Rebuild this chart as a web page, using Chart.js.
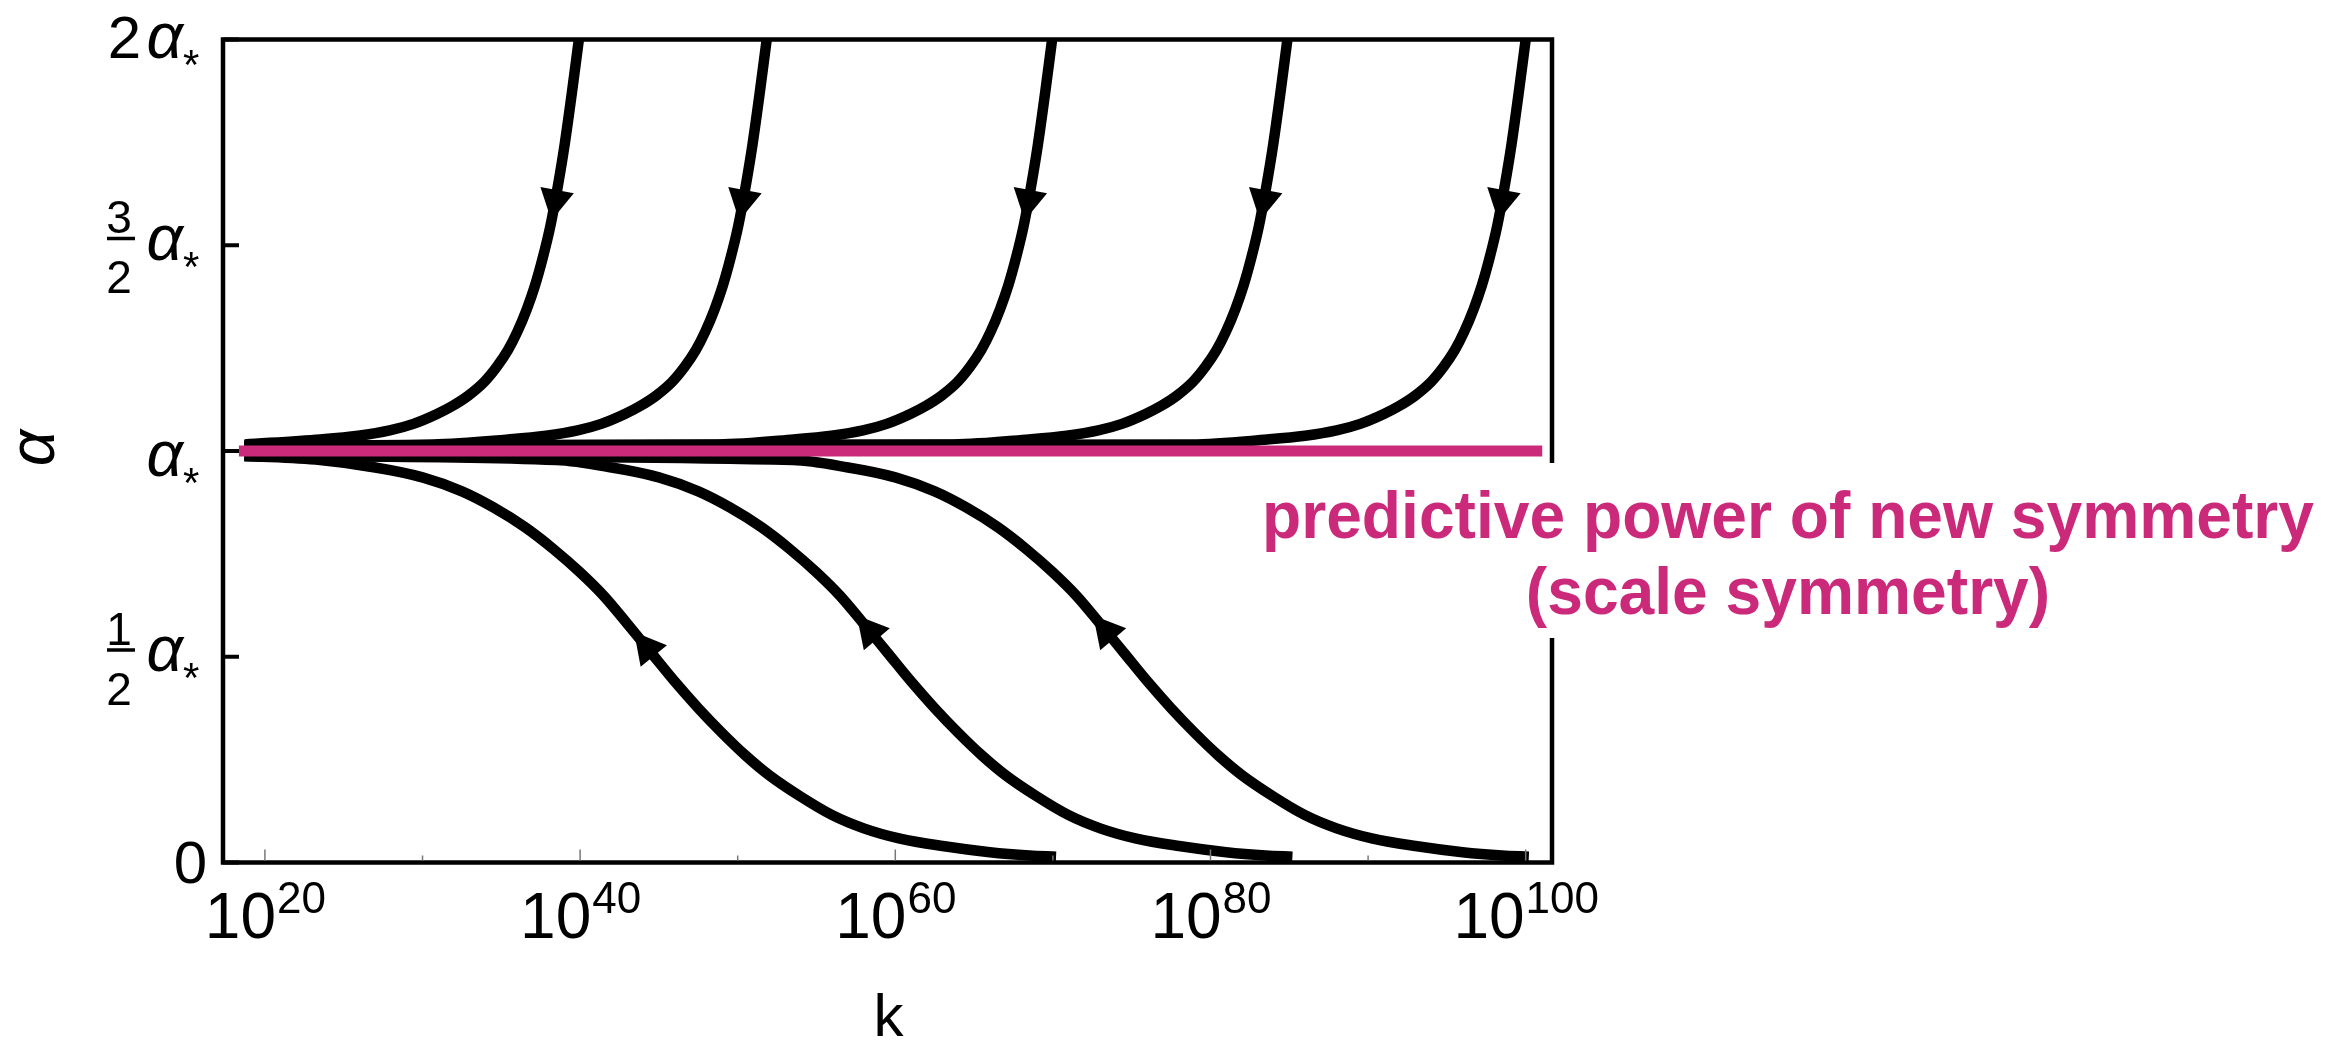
<!DOCTYPE html>
<html lang="en">
<head>
<meta charset="utf-8">
<title>Flujo de alfa</title>
<script src="https://cdn.jsdelivr.net/npm/chart.js@4.4.1/dist/chart.umd.min.js"></script>
<style>
  html, body { margin: 0; padding: 0; background: #ffffff; }
  #contenedor { position: relative; width: 2326px; height: 1041px; }
</style>
</head>
<body>
<div id="contenedor"><canvas id="grafica"></canvas></div>
<script>
// Datos: x = log10(k), y = alfa / alfa*
const kMin = 17.34;
const kMax = 101.67;
const alfaMin = 0;
const alfaMax = 2;

// ticks del eje x (exponentes de 10) y del eje y (multiplos de alfa*)
const ticksX = [20, 40, 60, 80, 100];
const ticksXMenores = [30, 50, 70, 90];
const ticksY = [0, 0.5, 1, 1.5, 2];
const etiquetasY = ['0', '1/2', '1', '3/2', '2'];

// linea del punto fijo (nueva simetria)
const simetriaK = [18.35, 101.05];
const simetriaA = [1, 1];

// curvas que suben hasta 2 alfa*
const subida1K = [18.72, 23.52, 25.92, 27.92, 29.42, 30.92, 31.92, 32.92, 33.92, 34.72, 35.42, 36.02, 36.62, 37.12, 37.62, 38.12, 38.57, 39.02, 39.47, 39.92];
const subida1A = [1.016, 1.028, 1.037, 1.050, 1.066, 1.090, 1.110, 1.135, 1.168, 1.205, 1.245, 1.290, 1.345, 1.400, 1.468, 1.548, 1.640, 1.745, 1.868, 2.0];
const subida2K = [18.7, 30.64, 35.44, 37.84, 39.84, 41.34, 42.84, 43.84, 44.84, 45.84, 46.64, 47.34, 47.94, 48.54, 49.04, 49.54, 50.04, 50.49, 50.94, 51.39, 51.84];
const subida2A = [1.013, 1.016, 1.028, 1.037, 1.050, 1.066, 1.090, 1.110, 1.135, 1.168, 1.205, 1.245, 1.290, 1.345, 1.400, 1.468, 1.548, 1.640, 1.745, 1.868, 2.0];
const subida3K = [18.7, 48.75, 53.55, 55.95, 57.95, 59.45, 60.95, 61.95, 62.95, 63.95, 64.75, 65.45, 66.05, 66.65, 67.15, 67.65, 68.15, 68.6, 69.05, 69.5, 69.95];
const subida3A = [1.013, 1.016, 1.028, 1.037, 1.050, 1.066, 1.090, 1.110, 1.135, 1.168, 1.205, 1.245, 1.290, 1.345, 1.400, 1.468, 1.548, 1.640, 1.745, 1.868, 2.0];
const subida4K = [18.7, 63.68, 68.48, 70.88, 72.88, 74.38, 75.88, 76.88, 77.88, 78.88, 79.68, 80.38, 80.98, 81.58, 82.08, 82.58, 83.08, 83.53, 83.98, 84.43, 84.88];
const subida4A = [1.013, 1.016, 1.028, 1.037, 1.050, 1.066, 1.090, 1.110, 1.135, 1.168, 1.205, 1.245, 1.290, 1.345, 1.400, 1.468, 1.548, 1.640, 1.745, 1.868, 2.0];
const subida5K = [18.7, 78.8, 83.6, 86.0, 88.0, 89.5, 91.0, 92.0, 93.0, 94.0, 94.8, 95.5, 96.1, 96.7, 97.2, 97.7, 98.2, 98.65, 99.1, 99.55, 100.0];
const subida5A = [1.013, 1.016, 1.028, 1.037, 1.050, 1.066, 1.090, 1.110, 1.135, 1.168, 1.205, 1.245, 1.290, 1.345, 1.400, 1.468, 1.548, 1.640, 1.745, 1.868, 2.0];

// curvas que bajan hasta 0
const bajada1K = [18.7, 23.5, 27.0, 30.0, 32.5, 34.5, 36.5, 38.3, 40.0, 41.5, 43.0, 44.5, 46.0, 47.5, 49.0, 50.5, 52.0, 54.0, 56.0, 58.0, 60.3, 63.0, 66.0, 68.5, 70.2];
const bajada1A = [0.988, 0.978, 0.960, 0.936, 0.902, 0.863, 0.815, 0.762, 0.705, 0.648, 0.580, 0.510, 0.440, 0.375, 0.315, 0.260, 0.212, 0.160, 0.115, 0.083, 0.058, 0.040, 0.025, 0.017, 0.014];
const bajada2K = [18.7, 38.5, 42.0, 45.0, 47.5, 49.5, 51.5, 53.3, 55.0, 56.5, 58.0, 59.5, 61.0, 62.5, 64.0, 65.5, 67.0, 69.0, 71.0, 73.0, 75.3, 78.0, 81.0, 83.5, 85.2];
const bajada2A = [0.988, 0.978, 0.960, 0.936, 0.902, 0.863, 0.815, 0.762, 0.705, 0.648, 0.580, 0.510, 0.440, 0.375, 0.315, 0.260, 0.212, 0.160, 0.115, 0.083, 0.058, 0.040, 0.025, 0.017, 0.014];
const bajada3K = [18.7, 53.5, 57.0, 60.0, 62.5, 64.5, 66.5, 68.3, 70.0, 71.5, 73.0, 74.5, 76.0, 77.5, 79.0, 80.5, 82.0, 84.0, 86.0, 88.0, 90.3, 93.0, 96.0, 98.5, 100.2];
const bajada3A = [0.988, 0.978, 0.960, 0.936, 0.902, 0.863, 0.815, 0.762, 0.705, 0.648, 0.580, 0.510, 0.440, 0.375, 0.315, 0.260, 0.212, 0.160, 0.115, 0.083, 0.058, 0.040, 0.025, 0.017, 0.014];

// alfa/alfa* donde esta la punta de cada flecha
const flechasSubida = [1.56, 1.56, 1.56, 1.56, 1.56];
const flechasBajada = [0.56, 0.60, 0.60];

const textoLinea1 = 'predictive power of new symmetry';
const textoLinea2 = '(scale symmetry)';
const tituloX = 'k';
const tituloY = '\u03b1';

const magenta = '#cb2a7b';
const fuente = '"Liberation Sans", Arial, Helvetica, sans-serif';
// pequeno ajuste vertical de cada etiqueta del eje y
const ajusteAlfa = { '2': 1, '3/2': -2.5, '1': 8, '1/2': -3 };

function puntos(ks, as) {
    return ks.map((k, i) => ({ x: k, y: as[i] }));
}

function curva(ks, as) {
    return {
        data: puntos(ks, as),
        borderColor: '#000000',
        borderWidth: 10.5,
        pointRadius: 0,
        cubicInterpolationMode: 'monotone',
        borderCapStyle: 'butt',
        borderJoinStyle: 'round',
        fill: false,
        order: 1
    };
}

const datasets = [
    {
        data: puntos(simetriaK, simetriaA),
        borderColor: magenta,
        borderWidth: 11,
        pointRadius: 0,
        borderCapStyle: 'butt',
        fill: false,
        order: 0
    },
    curva(subida1K, subida1A),
    curva(subida2K, subida2A),
    curva(subida3K, subida3A),
    curva(subida4K, subida4A),
    curva(subida5K, subida5A),
    curva(bajada1K, bajada1A),
    curva(bajada2K, bajada2A),
    curva(bajada3K, bajada3A)
];

// Dibuja una flecha sobre la curva, apuntando hacia k menor
function dibujarFlecha(ctx, meta, yPix) {
    const pts = meta.data;
    const largo = 31, ancho = 34;
    for (let i = 0; i < pts.length - 1; i++) {
        const a = pts[i], b = pts[i + 1];
        if ((a.y - yPix) * (b.y - yPix) <= 0 && a.y !== b.y) {
            const t = (yPix - a.y) / (b.y - a.y);
            const x = a.x + t * (b.x - a.x);
            let dx = a.x - b.x, dy = a.y - b.y;
            const n = Math.hypot(dx, dy);
            dx /= n; dy /= n;
            const bx = x - dx * largo, by = yPix - dy * largo;
            ctx.beginPath();
            ctx.moveTo(x, yPix);
            ctx.lineTo(bx - dy * ancho / 2, by + dx * ancho / 2);
            ctx.lineTo(bx + dy * ancho / 2, by - dx * ancho / 2);
            ctx.closePath();
            ctx.fill();
            return;
        }
    }
}

function centroGlifo(ctx, texto) {
    const m = ctx.measureText(texto);
    return (m.actualBoundingBoxAscent - m.actualBoundingBoxDescent) / 2;
}

function etiquetaY(ctx, texto, py) {
    ctx.fillStyle = '#000000';
    if (texto === '0') {
        ctx.font = `60px ${fuente}`;
        ctx.textAlign = 'right';
        ctx.fillText('0', 207, py + centroGlifo(ctx, '0'));
        return;
    }
    // alfa en cursiva
    ctx.font = `italic 64px ${fuente}`;
    ctx.textAlign = 'right';
    const base = py + (ajusteAlfa[texto] || 0) + centroGlifo(ctx, '\u03b1');
    ctx.fillText('\u03b1', 183, base);
    // asterisco como subindice
    ctx.font = `42px ${fuente}`;
    ctx.textAlign = 'left';
    ctx.fillText('*', 183, base + centroGlifo(ctx, '*'));
    if (texto === '2') {
        ctx.font = `60px ${fuente}`;
        ctx.textAlign = 'right';
        ctx.fillText('2', 141, base);
    } else if (texto.includes('/')) {
        const [num, den] = texto.split('/');
        ctx.font = `46px ${fuente}`;
        ctx.textAlign = 'center';
        ctx.fillText(num, 119, py - 12);
        ctx.fillText(den, 119, py + 48);
        ctx.fillRect(107, py - 8.5, 28, 3.5);
    }
}

function etiquetaX(ctx, exponente, px) {
    ctx.fillStyle = '#000000';
    ctx.textAlign = 'left';
    ctx.font = `64px ${fuente}`;
    const w1 = ctx.measureText('10').width;
    ctx.font = `44px ${fuente}`;
    const w2 = ctx.measureText(String(exponente)).width;
    const inicio = px - (w1 + w2) / 2;
    ctx.font = `64px ${fuente}`;
    ctx.fillText('10', inicio, 938);
    ctx.font = `44px ${fuente}`;
    ctx.fillText(String(exponente), inicio + w1 + 1, 913);
}

const decoracion = {
    id: 'decoracion',
    afterDatasetsDraw(chart) {
        const ctx = chart.ctx;
        ctx.save();
        ctx.fillStyle = '#000000';
        flechasSubida.forEach((v, i) => {
            dibujarFlecha(ctx, chart.getDatasetMeta(1 + i), chart.scales.y.getPixelForValue(v));
        });
        flechasBajada.forEach((v, i) => {
            dibujarFlecha(ctx, chart.getDatasetMeta(6 + i), chart.scales.y.getPixelForValue(v));
        });
        ctx.restore();
    },
    afterDraw(chart) {
        const ctx = chart.ctx;
        const area = chart.chartArea;
        const xs = chart.scales.x, ys = chart.scales.y;
        ctx.save();

        // marco
        ctx.strokeStyle = '#000000';
        ctx.lineWidth = 4.5;
        ctx.strokeRect(area.left, area.top, area.right - area.left, area.bottom - area.top);

        // ticks del eje y (hacia dentro)
        ctx.lineWidth = 4;
        ticksY.forEach(v => {
            const py = ys.getPixelForValue(v);
            ctx.beginPath();
            ctx.moveTo(area.left, py);
            ctx.lineTo(area.left + 16, py);
            ctx.stroke();
        });

        // ticks del eje x
        ctx.strokeStyle = '#777777';
        ctx.lineWidth = 1.5;
        ticksX.forEach(e => {
            const px = xs.getPixelForValue(e);
            ctx.beginPath();
            ctx.moveTo(px, area.bottom - 2);
            ctx.lineTo(px, area.bottom - 13);
            ctx.stroke();
        });
        ticksXMenores.forEach(e => {
            const px = xs.getPixelForValue(e);
            ctx.beginPath();
            ctx.moveTo(px, area.bottom - 2);
            ctx.lineTo(px, area.bottom - 7);
            ctx.stroke();
        });

        // etiquetas
        ctx.textBaseline = 'alphabetic';
        ticksY.forEach((v, i) => etiquetaY(ctx, etiquetasY[i], ys.getPixelForValue(v)));
        ticksX.forEach(e => etiquetaX(ctx, e, xs.getPixelForValue(e)));

        // titulos de los ejes
        ctx.fillStyle = '#000000';
        ctx.font = `60px ${fuente}`;
        ctx.textAlign = 'center';
        ctx.fillText(tituloX, (area.left + area.right) / 2 + 1, 1036);

        ctx.save();
        ctx.translate(37, ys.getPixelForValue(1) - 3);
        ctx.rotate(-Math.PI / 2);
        ctx.font = `italic 64px ${fuente}`;
        ctx.textAlign = 'center';
        ctx.fillText(tituloY, 0, centroGlifo(ctx, tituloY));
        ctx.restore();

        // texto magenta con fondo blanco
        ctx.fillStyle = '#ffffff';
        ctx.fillRect(1250, 463, 1076, 175);
        ctx.fillStyle = magenta;
        ctx.font = `bold 67px "Liberation Sans Narrow", ${fuente}`;
        const escalaX = 1052 / ctx.measureText(textoLinea1).width;
        ctx.translate(1788, 538);
        ctx.scale(escalaX, 1);
        ctx.textAlign = 'center';
        ctx.fillText(textoLinea1, 0, 0);
        ctx.fillText(textoLinea2, 0, 76);

        ctx.restore();
    }
};

const canvas = document.querySelector('#grafica');
const myChart = new Chart(canvas, {
    type: 'line',
    data: { datasets },
    options: {
        responsive: true,
        maintainAspectRatio: false,
        animation: false,
        events: [],
        layout: { padding: { left: 223, right: 774, top: 39.5, bottom: 178.5 } },
        plugins: {
            legend: { display: false },
            tooltip: { enabled: false }
        },
        scales: {
            x: { type: 'linear', min: kMin, max: kMax, display: false },
            y: { type: 'linear', min: alfaMin, max: alfaMax, display: false }
        }
    },
    plugins: [decoracion]
});
</script>
</body>
</html>
